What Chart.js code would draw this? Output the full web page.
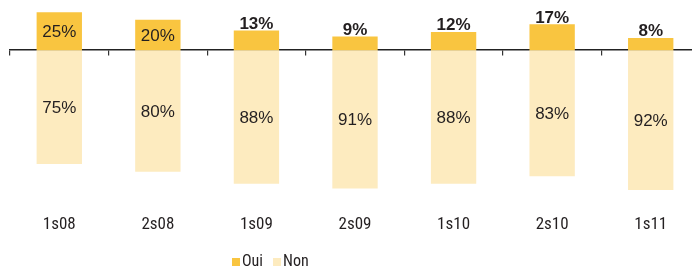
<!DOCTYPE html>
<html lang="fr">
<head>
    <meta charset="UTF-8">
    <title>Oui / Non par semestre</title>
    <script src="https://cdn.jsdelivr.net/npm/chart.js"></script>
    <style>
        html, body { margin: 0; padding: 0; background: #fff; overflow: hidden; }
        /* le graphique d'origine déborde un peu à droite : axe coupé par le bord */
        .chart-box { width: 700px; height: 267px; }
    </style>
</head>
<body>
    <div class="chart-box">
        <canvas id="ouiNonChart"></canvas>
    </div>
    <script>
        const semestres = ["1s08", "2s08", "1s09", "2s09", "1s10", "2s10", "1s11"];
        const oui = [25, 20, 13, 9, 12, 17, 8];
        const non = [75, 80, 88, 91, 88, 83, 92];

        const couleurOui = "#F9C540";
        const couleurNon = "#FDEBBF";
        const texte = "#231F20";
        const police = "'Liberation Sans', Arial, sans-serif";
        const policeEtroite = "'Roboto Condensed', 'Liberation Sans', sans-serif";

        // étiquettes de valeur sur les barres
        const etiquettes = {
            id: "etiquettes",
            afterDatasetsDraw(chart) {
                const ctx = chart.ctx;
                ctx.save();
                ctx.fillStyle = texte;
                ctx.textAlign = "center";
                chart.data.datasets.forEach((ds, i) => {
                    const meta = chart.getDatasetMeta(i);
                    meta.data.forEach((bar, j) => {
                        const txt = ds.valeurs[j] + "%";
                        const h = Math.abs(bar.base - bar.y);
                        if (h > 29) {
                            ctx.font = "17px " + police;
                            ctx.textBaseline = "middle";
                            ctx.fillText(txt, bar.x, (bar.y + bar.base) / 2 + 1);
                        } else {
                            ctx.font = "bold 17px " + police;
                            ctx.textBaseline = "alphabetic";
                            ctx.fillText(txt, bar.x, bar.y - 1.5);
                        }
                    });
                });
                ctx.restore();
            }
        };

        // légende dessinée à la main (décalée à gauche comme l'original)
        const legende = {
            id: "legende",
            afterDraw(chart) {
                const ctx = chart.ctx;
                ctx.save();
                ctx.font = "16px " + policeEtroite;
                ctx.textBaseline = "alphabetic";
                ctx.textAlign = "left";
                let x = 232;
                const base = 266;
                chart.data.datasets.forEach(ds => {
                    ctx.fillStyle = ds.backgroundColor;
                    ctx.fillRect(x, base - 8, 8, 8);
                    x += 10;
                    ctx.fillStyle = texte;
                    ctx.fillText(ds.label, x, base);
                    x += ctx.measureText(ds.label).width + 10;
                });
                ctx.restore();
            }
        };

        new Chart(document.getElementById("ouiNonChart"), {
            type: "bar",
            data: {
                labels: semestres,
                datasets: [
                    {
                        label: "Oui",
                        data: oui,
                        valeurs: oui,
                        backgroundColor: couleurOui,
                        categoryPercentage: 1,
                        barPercentage: 0.46
                    },
                    {
                        label: "Non",
                        data: non.map(v => -v),
                        valeurs: non,
                        backgroundColor: couleurNon,
                        categoryPercentage: 1,
                        barPercentage: 0.46
                    }
                ]
            },
            options: {
                responsive: true,
                maintainAspectRatio: false,
                animation: false,
                layout: { padding: { left: 10, right: 0, top: 0, bottom: 16.5 } },
                plugins: {
                    legend: { display: false },
                    tooltip: { enabled: false }
                },
                scales: {
                    x: {
                        stacked: true,
                        grid: { display: false, drawTicks: false },
                        border: { display: false },
                        ticks: {
                            padding: 16,
                            color: texte,
                            font: { family: policeEtroite, size: 17 }
                        }
                    },
                    x2: {
                        type: "category",
                        position: { y: 0 },
                        offset: true,
                        grid: {
                            offset: true,
                            drawOnChartArea: false,
                            drawTicks: true,
                            tickLength: 5,
                            color: "#333",
                            lineWidth: 1.2
                        },
                        border: { display: true, color: "#222", width: 1.5 },
                        ticks: { display: false }
                    },
                    y: {
                        stacked: true,
                        display: false,
                        min: -97.4,
                        max: 33
                    }
                }
            },
            plugins: [etiquettes, legende]
        });
    </script>
</body>
</html>
